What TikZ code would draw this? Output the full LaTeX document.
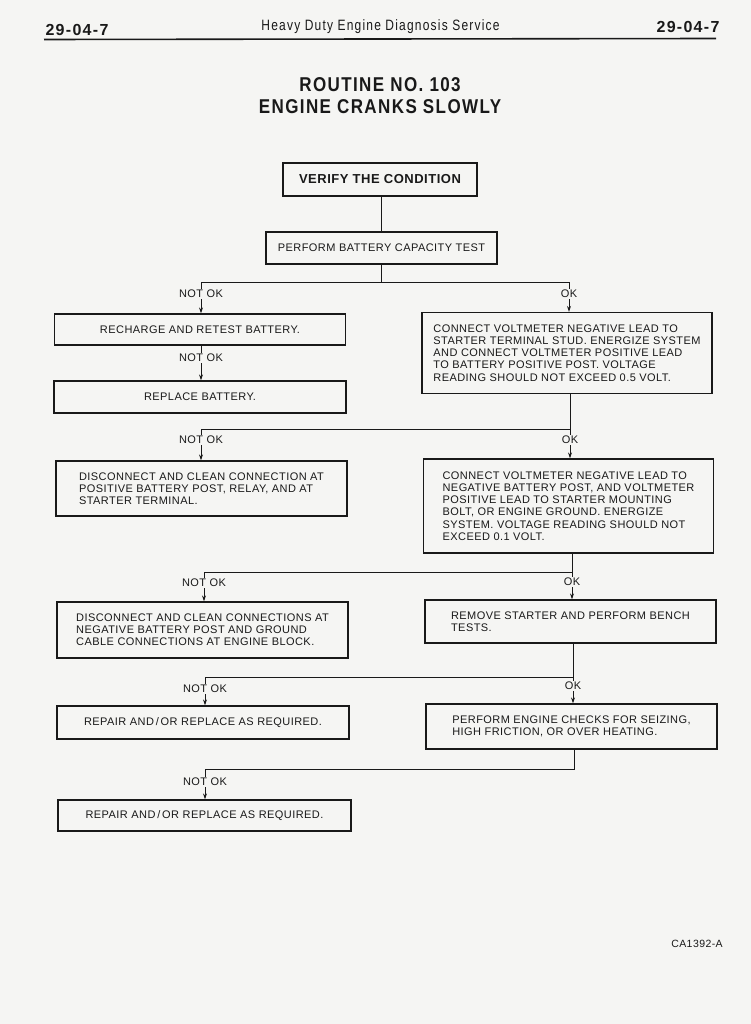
\documentclass[tikz,border=0pt]{standalone}
\usepackage{fontspec}
\setmainfont{Liberation Sans}
\newfontfamily\boxfont[LetterSpace=4]{Liberation Sans}
\newfontfamily\titlefont[LetterSpace=7,FakeStretch=0.85]{Liberation Sans}
\newfontfamily\headfont[LetterSpace=8,FakeStretch=0.8]{Liberation Sans}
\newfontfamily\pagefont[LetterSpace=8]{Liberation Sans}
\newfontfamily\codefont[LetterSpace=4]{Liberation Sans}
\usetikzlibrary{arrows.meta}
\definecolor{paper}{RGB}{245,245,243}
\definecolor{ink}{RGB}{25,25,25}
\begin{document}
\begin{tikzpicture}[x=1pt,y=-1pt,
  every node/.style={text=ink},
  box/.style={draw=ink, line width=1.2pt, align=left, inner sep=0pt,
    font=\boxfont\fontsize{11}{12.2}\selectfont},
  lbl/.style={fill=paper, inner sep=1pt, font=\boxfont\fontsize{11}{11}\selectfont},
  conn/.style={draw=ink, line width=0.9pt},
  arr/.style={draw=ink, line width=0.9pt, -{Stealth[length=6pt,width=4pt]}}]
\fill[paper] (0,0) rectangle (751,1024);
\useasboundingbox (0,0) rectangle (751,1024);

% header
\node[font=\pagefont\bfseries\fontsize{16}{18}\selectfont] (pgL) at (77,30) {29-04-7};
\node[font=\headfont\fontsize{15}{17}\selectfont] (hdr) at (380.5,27) {Heavy Duty Engine Diagnosis Service};
\node[font=\pagefont\bfseries\fontsize{16}{18}\selectfont] (pgR) at (688,27) {29-04-7};
\draw[ink, line width=1.6pt] (44,39.5) -- (716,38.5);

% title
\node[font=\titlefont\bfseries\fontsize{20}{22}\selectfont, align=center] (title) at (380,96)
  {ROUTINE NO. 103\\ENGINE CRANKS SLOWLY};

% boxes
\node[box, minimum width=194, minimum height=33,
  font=\boxfont\bfseries\fontsize{13}{14}\selectfont] (b0) at (380,179.5) {VERIFY THE CONDITION};
\node[box, minimum width=231, minimum height=32] (b1) at (381.5,248) {PERFORM BATTERY CAPACITY TEST};

\node[box, minimum width=291, minimum height=31] (l1) at (200,329.5) {RECHARGE AND RETEST BATTERY.};
\node[box, minimum width=292, minimum height=32] (l2) at (200,397) {REPLACE BATTERY.};
\node[box, minimum width=290, minimum height=81] (r1) at (567,353)
  {CONNECT VOLTMETER NEGATIVE LEAD TO\\STARTER TERMINAL STUD. ENERGIZE SYSTEM\\AND CONNECT VOLTMETER POSITIVE LEAD\\TO BATTERY POSITIVE POST. VOLTAGE\\READING SHOULD NOT EXCEED 0.5 VOLT.};

\node[box, minimum width=291, minimum height=55] (l3) at (201.5,488.5)
  {DISCONNECT AND CLEAN CONNECTION AT\\POSITIVE BATTERY POST, RELAY, AND AT\\STARTER TERMINAL.};
\node[box, minimum width=290, minimum height=94] (r2) at (568.5,506)
  {CONNECT VOLTMETER NEGATIVE LEAD TO\\NEGATIVE BATTERY POST, AND VOLTMETER\\POSITIVE LEAD TO STARTER MOUNTING\\BOLT, OR ENGINE GROUND. ENERGIZE\\SYSTEM. VOLTAGE READING SHOULD NOT\\EXCEED 0.1 VOLT.};

\node[box, minimum width=291, minimum height=56] (l4) at (202.5,630)
  {DISCONNECT AND CLEAN CONNECTIONS AT\\NEGATIVE BATTERY POST AND GROUND\\CABLE CONNECTIONS AT ENGINE BLOCK.};
\node[box, minimum width=291, minimum height=43] (r3) at (570.5,621.5)
  {REMOVE STARTER AND PERFORM BENCH\\TESTS.};

\node[box, minimum width=292, minimum height=33] (l5) at (203,722.5) {REPAIR AND\,/\,OR REPLACE AS REQUIRED.};
\node[box, minimum width=291, minimum height=45] (r4) at (571.5,726.5)
  {PERFORM ENGINE CHECKS FOR SEIZING,\\HIGH FRICTION, OR OVER HEATING.};

\node[box, minimum width=293, minimum height=31] (l6) at (204.5,815.5) {REPAIR AND\,/\,OR REPLACE AS REQUIRED.};

% junction points
\coordinate (t1L) at (201,282);  \coordinate (t1R) at (569,282);
\coordinate (t2L) at (201,429);  \coordinate (t2R) at (570,429);
\coordinate (t3L) at (204,572);  \coordinate (t3R) at (572,572);
\coordinate (t4L) at (205,677);  \coordinate (t4R) at (573,677);
\coordinate (t5L) at (205,769);  \coordinate (t5R) at (574,769);

% connectors
\draw[conn] ([xshift=1pt]b0.south) -- ([xshift=1pt]b0.south |- b1.north);
\draw[conn] (b1.south) -- (b1.south |- t1L);
\draw[conn] (t1L) -- (t1R);
\draw[arr] (t1L) -- (t1L |- l1.north);
\draw[arr] (t1R) -- (t1R |- r1.north);
\draw[arr] ([xshift=1pt]l1.south) -- ([xshift=1pt]l1.south |- l2.north);

\draw[conn] (t2R |- r1.south) -- (t2R) -- (t2L);
\draw[arr] (t2L) -- (t2L |- l3.north);
\draw[arr] (t2R) -- (t2R |- r2.north);

\draw[conn] (t3R |- r2.south) -- (t3R) -- (t3L);
\draw[arr] (t3L) -- (t3L |- l4.north);
\draw[arr] (t3R) -- (t3R |- r3.north);

\draw[conn] (t4R |- r3.south) -- (t4R) -- (t4L);
\draw[arr] (t4L) -- (t4L |- l5.north);
\draw[arr] (t4R) -- (t4R |- r4.north);

\draw[conn] (t5R |- r4.south) -- (t5R) -- (t5L);
\draw[arr] (t5L) -- (t5L |- l6.north);

% labels
\node[lbl] (n1) at (201,294) {NOT OK};
\node[lbl] (o1) at (569,294) {OK};
\node[lbl] (n2) at (201,358) {NOT OK};
\node[lbl] (n3) at (201,440) {NOT OK};
\node[lbl] (o3) at (570,440) {OK};
\node[lbl] (n4) at (204,583) {NOT OK};
\node[lbl] (o4) at (572,582) {OK};
\node[lbl] (n5) at (205,689) {NOT OK};
\node[lbl] (o5) at (573,686) {OK};
\node[lbl] (n6) at (205,782) {NOT OK};

\node[font=\codefont\fontsize{10.5}{12}\selectfont] (code) at (697,944) {CA1392-A};
\end{tikzpicture}
\end{document}
